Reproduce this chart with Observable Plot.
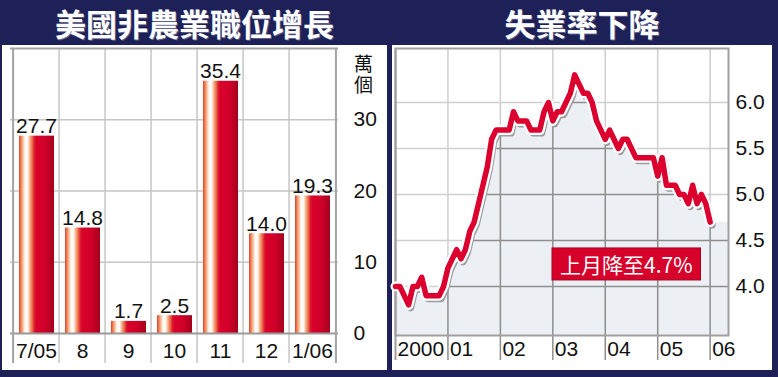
<!DOCTYPE html>
<html><head><meta charset="utf-8">
<script src="https://cdn.jsdelivr.net/npm/d3@7"></script>
<script src="https://cdn.jsdelivr.net/npm/@observablehq/plot@0.6"></script>
<style>
html,body{margin:0;padding:0;}
body{width:778px;height:377px;background:#1e2058;position:relative;overflow:hidden;font-family:"Liberation Sans",Arial,sans-serif;}
.title{position:absolute;top:0;height:45px;line-height:46px;text-align:center;color:#fff;font-family:"Noto Sans CJK TC","Noto Sans CJK SC",sans-serif;font-weight:700;font-size:31px;text-shadow:1px 1px 0 #5a5e88;white-space:nowrap;}
.panel{position:absolute;top:45px;height:325px;background:#fff;}
.panel svg{display:block;}
</style></head><body>
<div class="title" style="left:2px;width:385px">美國非農業職位增長</div>
<div class="title" style="left:392px;width:380px">失業率下降</div>
<div class="panel" id="left" style="left:2px;width:385px"></div>
<div class="panel" id="right" style="left:392px;width:380px"></div>
<script>
// ---- Left panel data: US non-farm payroll gains (ten-thousands) ----
const months = ["7/05","8","9","10","11","12","1/06"];
const jobGains = [27.7, 14.8, 1.7, 2.5, 35.4, 14.0, 19.3];
const jobTicks = [0, 10, 20, 30];
const unitLine1 = "萬";
const unitLine2 = "個";

// ---- Right panel data: US unemployment rate, monthly from Jan 2000 ----
const rateStartYear = 2000;
const rates2000 = [4.0, 4.0, 3.9, 3.8, 4.0, 4.0, 4.1, 3.9, 3.9, 3.9, 3.9, 4.0];
const rates2001 = [4.2, 4.3, 4.4, 4.3, 4.4, 4.6, 4.7, 4.9, 5.1, 5.3, 5.6, 5.7];
const rates2002 = [5.7, 5.7, 5.7, 5.9, 5.8, 5.8, 5.8, 5.7, 5.7, 5.7, 5.9, 6.0];
const rates2003 = [5.8, 5.9, 5.9, 6.0, 6.1, 6.3, 6.2, 6.1, 6.1, 6.0, 5.8, 5.7];
const rates2004 = [5.6, 5.7, 5.6, 5.5, 5.6, 5.6, 5.5, 5.4, 5.4, 5.4, 5.4, 5.4];
const rates2005 = [5.2, 5.4, 5.1, 5.1, 5.1, 5.0, 5.0, 4.9, 5.1, 4.9, 5.0, 4.9];
const rates2006 = [4.7];
const yearTicks = [2000, 2001, 2002, 2003, 2004, 2005, 2006];
const yearLabels = ["2000", "01", "02", "03", "04", "05", "06"];
const rateTicks = [4.0, 4.5, 5.0, 5.5, 6.0];
const noteText = "上月降至4.7%";
const noteAt = {x: 2004.4, y: 4.22};

const FONT = "'Liberation Sans', Arial, Helvetica, sans-serif";
const CJK = "'Noto Sans CJK TC', 'Noto Sans CJK SC', sans-serif";

// ---------------- Left chart ----------------
const jobs = months.map((m, i) => ({m, v: jobGains[i]}));
const W1 = 385, H = 325, mL1 = 8, mR1 = 49, mT = 3, mB1 = 37;
const bw = (W1 - mL1 - mR1) / months.length;
const gridC = "#c6c6c6";

const leftPlot = Plot.plot({
  width: W1, height: H,
  marginLeft: mL1, marginRight: mR1, marginTop: mT, marginBottom: mB1,
  style: {background: "transparent", fontFamily: FONT, fontSize: "21px", color: "#111", overflow: "visible"},
  x: {domain: months, padding: 0},
  y: {domain: [0, 40]},
  marks: [
    Plot.ruleY(jobTicks.slice(1), {stroke: gridC, strokeWidth: 1.5}),
    Plot.ruleX(months.slice(1), {x: d => d, dx: -bw / 2, stroke: gridC, strokeWidth: 1.5, insetBottom: -30}),
    Plot.barY(jobs, {x: "m", y: "v", fill: "url(#barGrad)", insetLeft: 6, insetRight: 5}),
    Plot.ruleY([0], {stroke: "#9a9a9a", strokeWidth: 2}),
    Plot.ruleY([40], {stroke: "#a4a4a4", strokeWidth: 2}),
    Plot.ruleX([months[0]], {x: d => d, dx: -bw / 2, stroke: "#a4a4a4", strokeWidth: 2, insetBottom: -30}),
    Plot.ruleX([months[months.length - 1]], {x: d => d, dx: bw / 2, stroke: "#a4a4a4", strokeWidth: 2, insetBottom: -30}),
    Plot.text(jobs, {x: "m", y: "v", text: d => d3.format(".1f")(d.v), lineAnchor: "bottom", dy: -3, fontSize: 21, fill: "#111"}),
    Plot.axisX({tickSize: 0, tickPadding: 10, fontSize: 21, label: null}),
    Plot.axisY({anchor: "right", ticks: jobTicks, tickSize: 0, tickPadding: 15, fontSize: 21, label: null}),
    Plot.text([unitLine1], {frameAnchor: "top-right", dx: 25, dy: 9, lineAnchor: "top", textAnchor: "middle", fontSize: 19, fontFamily: CJK, fill: "#111"}),
    Plot.text([unitLine2], {frameAnchor: "top-right", dx: 25, dy: 30, lineAnchor: "top", textAnchor: "middle", fontSize: 19, fontFamily: CJK, fill: "#111"})
  ]
});

// bar gradient
(function addGradient(svg) {
  const NS = "http://www.w3.org/2000/svg";
  const defs = document.createElementNS(NS, "defs");
  const g = document.createElementNS(NS, "linearGradient");
  g.setAttribute("id", "barGrad");
  g.setAttribute("x1", "0"); g.setAttribute("x2", "1"); g.setAttribute("y1", "0"); g.setAttribute("y2", "0");
  const stops = [
    [0, "#e2402c"], [0.06, "#ef8558"], [0.12, "#f8c6a4"], [0.18, "#ffffff"], [0.25, "#fff6ee"],
    [0.31, "#f7b08a"], [0.38, "#ea6a44"], [0.44, "#dc1c30"], [0.5, "#d9002b"], [0.76, "#cf0029"], [1, "#a3001d"]
  ];
  for (const [o, c] of stops) {
    const s = document.createElementNS(NS, "stop");
    s.setAttribute("offset", o); s.setAttribute("stop-color", c);
    g.appendChild(s);
  }
  defs.appendChild(g);
  svg.insertBefore(defs, svg.firstChild);
})(leftPlot);
document.getElementById("left").appendChild(leftPlot);

// ---------------- Right chart ----------------
const allRates = [...rates2000, ...rates2001, ...rates2002, ...rates2003, ...rates2004, ...rates2005, ...rates2006];
const rateData = allRates.map((v, i) => ({x: rateStartYear + i / 12, v}));
const last = rateData[rateData.length - 1];
const W2 = 380, mL2 = 3, mR2 = 44, mB2 = 35;
const xMax = 2006.35, yMin = 3.467, yMax = 6.587;
const fillC = "#eceff3";
const darkGrid = "#8e8e8e";

const rightPlot = Plot.plot({
  width: W2, height: H,
  marginLeft: mL2, marginRight: mR2, marginTop: mT, marginBottom: mB2,
  style: {background: "transparent", fontFamily: FONT, fontSize: "21px", color: "#111", overflow: "visible"},
  x: {domain: [rateStartYear, xMax], axis: null},
  y: {domain: [yMin, yMax]},
  marks: [
    Plot.areaY(rateData, {x: "x", y1: yMin, y2: "v", fill: fillC}),
    Plot.rect([last], {x1: "x", x2: () => xMax, y1: () => yMin, y2: "v", fill: fillC}),
    Plot.ruleY(rateTicks, {stroke: darkGrid, strokeWidth: 1.5}),
    Plot.ruleX(yearTicks.slice(1), {stroke: darkGrid, strokeWidth: 1.5, insetBottom: -25}),
    Plot.areaY(rateData, {x: "x", y1: "v", y2: () => yMax, fill: "white", fillOpacity: 0.58}),
    Plot.rect([last], {x1: "x", x2: () => xMax, y1: "v", y2: () => yMax, fill: "white", fillOpacity: 0.58}),
    Plot.frame({stroke: "#a0a0a0", strokeWidth: 2}),
    Plot.ruleX([rateStartYear], {stroke: "#a0a0a0", strokeWidth: 2, insetBottom: -25}),
    Plot.line(rateData, {x: "x", y: "v", stroke: "#9c9c9c", strokeWidth: 7, dx: 2, dy: 3, strokeLinejoin: "round"}),
    Plot.line(rateData, {x: "x", y: "v", stroke: "white", strokeWidth: 10, strokeLinejoin: "round"}),
    Plot.line(rateData, {x: "x", y: "v", stroke: "#dc002e", strokeWidth: 5.5, strokeLinejoin: "round"}),
    Plot.text([noteText], {x: () => noteAt.x, y: () => noteAt.y, fill: "white", fontSize: 21, fontFamily: CJK}),
    Plot.axisY({anchor: "right", ticks: rateTicks, tickFormat: d3.format(".1f"), tickSize: 0, tickPadding: 7, fontSize: 21, label: null}),
    Plot.text(yearLabels, {x: (d, i) => yearTicks[i], frameAnchor: "bottom", lineAnchor: "top", textAnchor: "start", dx: 2, dy: 6, fontSize: 21, fill: "#111"})
  ]
});
document.getElementById("right").appendChild(rightPlot);

// background box behind the note text (after attaching so getBBox works)
(function boxNote(svg) {
  const NS = "http://www.w3.org/2000/svg";
  for (const t of svg.querySelectorAll("text")) {
    if (t.textContent === noteText) {
      const b = t.getBBox();
      const r = document.createElementNS(NS, "rect");
      r.setAttribute("x", b.x - 8); r.setAttribute("y", b.y - 1);
      r.setAttribute("width", b.width + 16); r.setAttribute("height", b.height + 2);
      r.setAttribute("fill", "#d7002b"); r.setAttribute("stroke", "#a8001f"); r.setAttribute("stroke-width", "1");
      const tr = t.getAttribute("transform");
      if (tr) r.setAttribute("transform", tr);
      t.parentNode.insertBefore(r, t);
    }
  }
})(rightPlot);
</script>
</body></html>
